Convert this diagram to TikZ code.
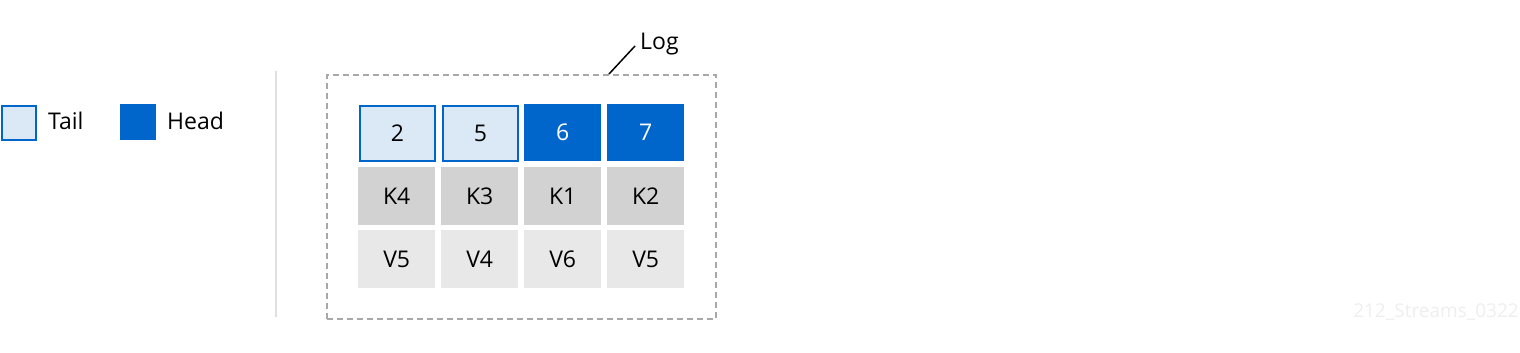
\documentclass[tikz,border=0pt]{standalone}
\usepackage{fontspec}
\setmainfont{Open Sans}
\definecolor{rhblue}{HTML}{0066CC}
\definecolor{rhlight}{HTML}{DBE8F6}
\definecolor{keygray}{HTML}{D2D2D2}
\definecolor{valgray}{HTML}{E8E8E8}
\definecolor{dashgray}{HTML}{A8A8A8}
\definecolor{sepgray}{HTML}{E0E0E0}
\definecolor{wmgray}{HTML}{EEEEEE}
\begin{document}
\begin{tikzpicture}[x=1pt,y=-1pt,
  cell/.style={minimum width=77pt,minimum height=57pt,inner sep=0pt,font=\fontsize{23}{26}\selectfont,anchor=north west},
  tailcell/.style={cell,fill=rhlight,draw=rhblue,line width=2pt,minimum width=75pt,minimum height=55pt},
  headcell/.style={cell,fill=rhblue,text=white},
  keycell/.style={cell,fill=keygray},
  valcell/.style={cell,fill=valgray},
  lbl/.style={font=\fontsize{23}{26}\selectfont,inner sep=0pt,anchor=west}]
\useasboundingbox (0,0) rectangle (1520,353);
% legend
\node[fill=rhlight,draw=rhblue,line width=2pt,minimum size=34pt,inner sep=0pt,anchor=north west] (tailkey) at (1,105) {};
\node[lbl] (taillbl) at (48,121) {Tail};
\node[fill=rhblue,minimum size=36pt,inner sep=0pt,anchor=north west] (headkey) at (120,104) {};
\node[lbl] (headlbl) at (167,121) {Head};
% separator
\coordinate (s1) at (276,71);
\coordinate (s2) at (276,317);
\draw[sepgray,line width=1.5pt] (s1) -- (s2);
% log box
\node[draw=dashgray,dashed,dash pattern=on 6pt off 4pt,line width=1.5pt,minimum width=389pt,minimum height=244pt,inner sep=0pt,anchor=north west] (logbox) at (326,74) {};
\node[lbl] (loglbl) at (640,44) {Log};
\coordinate (lp1) at (609,74);
\coordinate (lp2) at (635,46);
\draw[black,line width=1.5pt] (lp1) -- (lp2);
% row 1
\node[tailcell] (c1) at (359,105) {2};
\node[tailcell] (c2) at (442,105) {5};
\node[headcell] (c3) at (524,104) {6};
\node[headcell] (c4) at (607,104) {7};
% row 2
\node[keycell,minimum height=58pt] (k1) at (358,167) {K4};
\node[keycell,minimum height=58pt] (k2) at (441,167) {K3};
\node[keycell,minimum height=58pt] (k3) at (524,167) {K1};
\node[keycell,minimum height=58pt] (k4) at (607,167) {K2};
% row 3
\node[valcell,minimum height=58pt] (v1) at (358,230) {V5};
\node[valcell,minimum height=58pt] (v2) at (441,230) {V4};
\node[valcell,minimum height=58pt] (v3) at (524,230) {V6};
\node[valcell,minimum height=58pt] (v4) at (607,230) {V5};
% watermark
\node[font=\fontsize{19}{21}\selectfont,text=wmgray,inner sep=0pt,anchor=east] (wm) at (1519,312) {212\_Streams\_0322};
\end{tikzpicture}
\end{document}
